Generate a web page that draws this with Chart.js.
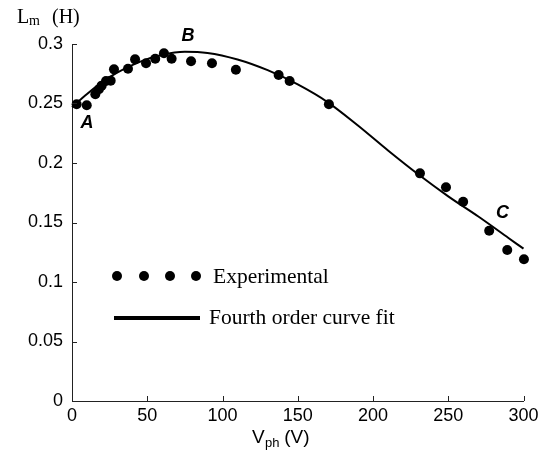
<!DOCTYPE html>
<html>
<head>
<meta charset="utf-8">
<script src="https://cdn.jsdelivr.net/npm/chart.js@4.4.1/dist/chart.umd.min.js"></script>
<style>
  html, body { margin: 0; padding: 0; background: #fff; }
  #wrap { width: 544px; height: 450px; }
</style>
</head>
<body>
<div id="wrap"><canvas id="lm-chart" width="544" height="450"></canvas></div>
<script>
// measured points (phase voltage in V, magnetising inductance in H)
const expVoltage = [3.1, 9.8, 15.5, 17.9, 19.7, 22.6, 25.7, 27.9, 37.2, 41.9, 49.2, 55.3, 61.1, 66.2,
  79.1, 93.0, 108.9, 137.3, 144.6, 170.7, 231.2, 248.5, 259.9, 277.2, 289.2, 300.3];
const expInductance = [0.2493, 0.2485, 0.2577, 0.2619, 0.2650, 0.2689, 0.2692, 0.2787, 0.2792, 0.2871,
  0.2838, 0.2876, 0.2922, 0.2876, 0.2855, 0.2838, 0.2784, 0.2739, 0.2689, 0.2493, 0.1913, 0.1796,
  0.1675, 0.1431, 0.1269, 0.1191];

// fourth order fit
const fitVoltage = [0, 10, 20, 30, 45, 60, 75, 90, 110, 130, 150, 170, 190, 210, 230, 250, 270, 290, 300];
const fitInductance = [0.247, 0.258, 0.268, 0.276, 0.285, 0.291, 0.2935, 0.2925, 0.287, 0.278, 0.266,
  0.251, 0.2315, 0.2105, 0.1905, 0.172, 0.155, 0.137, 0.128];

const xTicks = [0, 50, 100, 150, 200, 250, 300];
const yTicks = [0, 0.05, 0.1, 0.15, 0.2, 0.25, 0.3];

const regionNames = ['A', 'B', 'C'];
const regionVoltage = [10, 77, 286];
const regionInductance = [0.234, 0.307, 0.158];

const sans = '"Liberation Sans", Arial, sans-serif';
const serif = '"Liberation Serif", "Times New Roman", serif';

// inward tick marks, subscript titles, point labels and the legend
const extrasPlugin = {
  id: 'extras',
  afterDraw(chart) {
    const ctx = chart.ctx;
    const x = chart.scales.x;
    const y = chart.scales.y;
    const area = chart.chartArea;
    ctx.save();
    ctx.strokeStyle = '#222';
    ctx.lineWidth = 1;
    ctx.beginPath();
    xTicks.forEach(v => {
      const px = Math.round(x.getPixelForValue(v)) + 0.5;
      ctx.moveTo(px, area.bottom);
      ctx.lineTo(px, area.bottom - 5);
    });
    yTicks.forEach(v => {
      const py = Math.round(y.getPixelForValue(v)) + 0.5;
      ctx.moveTo(area.left, py);
      ctx.lineTo(area.left + 5, py);
    });
    ctx.stroke();

    ctx.fillStyle = '#000';
    ctx.textBaseline = 'alphabetic';
    ctx.textAlign = 'left';

    // y title  L_m (H)
    ctx.font = '20px ' + serif;
    ctx.fillText('L', 17, 23);
    ctx.font = '14px ' + serif;
    ctx.fillText('m', 29, 25);
    ctx.font = '20px ' + serif;
    ctx.fillText('(H)', 52, 23);

    // x title  V_ph (V)
    ctx.font = '19px ' + sans;
    ctx.fillText('V', 252, 443);
    ctx.font = '13px ' + sans;
    ctx.fillText('ph', 265, 447);
    ctx.font = '19px ' + sans;
    ctx.fillText(' (V)', 279, 443);

    // A, B, C markers
    ctx.font = 'italic bold 18px ' + sans;
    ctx.textAlign = 'center';
    ctx.textBaseline = 'middle';
    regionNames.forEach((n, i) => {
      ctx.fillText(n, x.getPixelForValue(regionVoltage[i]), y.getPixelForValue(regionInductance[i]));
    });

    // legend
    ctx.textAlign = 'left';
    [117, 144, 170, 196].forEach(cx => {
      ctx.beginPath();
      ctx.arc(cx, 276, 5, 0, Math.PI * 2);
      ctx.fill();
    });
    ctx.font = '21.5px ' + serif;
    ctx.fillText('Experimental', 213, 277);
    ctx.fillRect(114, 316, 86, 4);
    ctx.fillText('Fourth order curve fit', 209, 318);
    ctx.restore();
  }
};

new Chart(document.getElementById('lm-chart'), {
  type: 'scatter',
  data: {
    datasets: [
      {
        label: 'Experimental',
        data: expVoltage.map((v, i) => ({ x: v, y: expInductance[i] })),
        backgroundColor: '#000',
        borderColor: '#000',
        pointRadius: 5,
        pointBorderWidth: 0,
        clip: false
      },
      {
        label: 'Fourth order curve fit',
        data: fitVoltage.map((v, i) => ({ x: v, y: fitInductance[i] })),
        showLine: true,
        borderColor: '#000',
        borderWidth: 2,
        pointRadius: 0,
        cubicInterpolationMode: 'monotone',
        clip: false
      }
    ]
  },
  options: {
    responsive: false,
    animation: false,
    layout: { padding: { left: 0, top: 44, right: 20.5, bottom: 0 } },
    plugins: { legend: { display: false }, tooltip: { enabled: false } },
    scales: {
      x: {
        type: 'linear',
        min: 0,
        max: 300,
        afterFit: s => { s.height = 49; },
        afterBuildTicks: s => { s.ticks = xTicks.map(v => ({ value: v })); },
        grid: { drawOnChartArea: false, drawTicks: false },
        border: { display: true, color: '#222', width: 1 },
        ticks: { color: '#000', font: { family: sans, size: 18 }, padding: 4, maxRotation: 0 }
      },
      y: {
        type: 'linear',
        min: 0,
        max: 0.3,
        afterFit: s => { s.width = 72; },
        afterBuildTicks: s => { s.ticks = yTicks.map(v => ({ value: v })); },
        grid: { drawOnChartArea: false, drawTicks: false },
        border: { display: true, color: '#222', width: 1 },
        ticks: { color: '#000', font: { family: sans, size: 18 }, padding: 9,
          callback: v => String(+v.toFixed(2)) }
      }
    }
  },
  plugins: [extrasPlugin]
});
</script>
</body>
</html>
